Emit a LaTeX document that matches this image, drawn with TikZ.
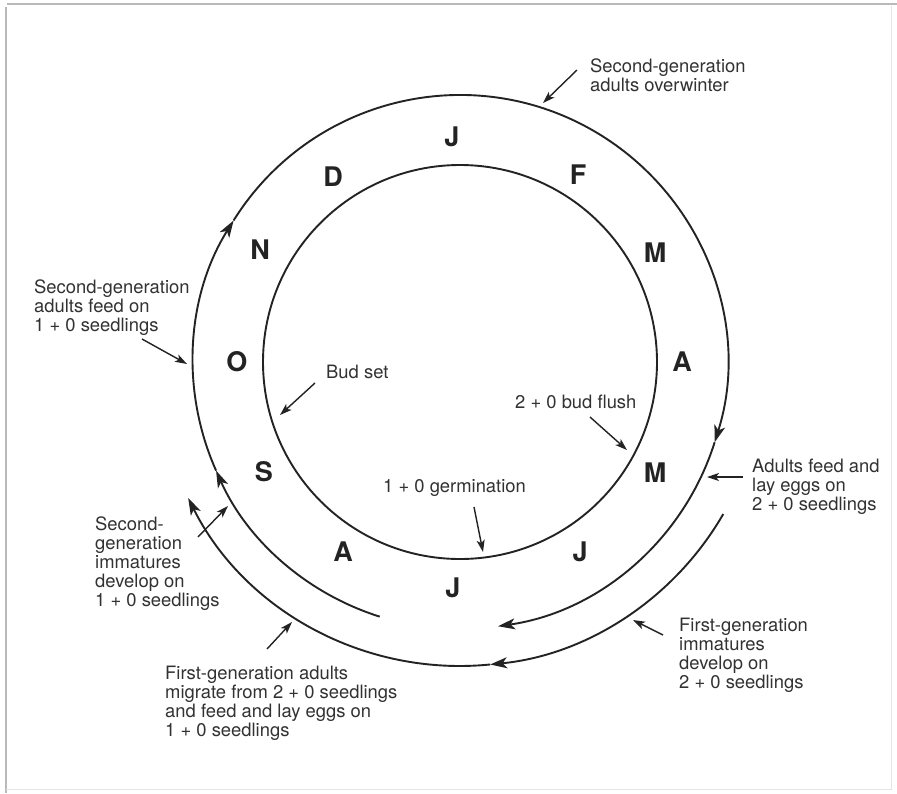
\documentclass[tikz,border=0pt]{standalone}
\usepackage{fontspec}
\setmainfont{TeX Gyre Heros}
\usetikzlibrary{arrows.meta}
\definecolor{ink}{RGB}{35,35,35}
\definecolor{txt}{RGB}{50,50,50}
\definecolor{framedark}{RGB}{185,185,185}
\definecolor{framelight}{RGB}{228,228,228}
\begin{document}
\begin{tikzpicture}[x=1pt,y=1pt,
  ring/.style={draw=ink,line width=1.9pt},
  arcarrow/.style={-{Stealth[length=17pt,width=11pt,inset=4.5pt]}},
  leader/.style={draw=ink,line width=1.4pt,-{Stealth[length=12pt,width=8pt,inset=3pt]}},
  lbl/.style={anchor=north west,inner sep=0pt,align=left,text=txt,font=\fontsize{18.4}{19}\selectfont},
  month/.style={inner sep=0pt,text=ink,font=\fontsize{27}{27}\selectfont\bfseries}]
\useasboundingbox (0,0) rectangle (897,-793);
\fill[white] (0,0) rectangle (897,-793);
% frame
\draw[framedark,line width=1.5pt] (7,-4) -- (897,-4);
\draw[framedark,line width=1.5pt] (6,-7) -- (6,-793);
\draw[framelight,line width=1pt] (891,-6) -- (891,-790);
\draw[framelight,line width=1pt] (6,-789) -- (891,-789);

\coordinate (c) at (460,-362);
% inner circle
\draw[ring] (c) circle[radius=197];

% main loop (radius 267)
\coordinate (m0) at ([shift={(-107.5:267)}]c);
\coordinate (m1) at ([shift={(-156:267)}]c);
\coordinate (m2) at ([shift={(-212:267)}]c);
\coordinate (m3) at ([shift={(-377.5:267)}]c);
\draw[ring,arcarrow] (m0) arc[start angle=-107.5,end angle=-156,radius=267];
\draw[ring,arcarrow] (m1) arc[start angle=-156,end angle=-212,radius=267];
\draw[ring,arcarrow] (m2) arc[start angle=-212,end angle=-377.5,radius=267];
\draw[ring,arcarrow] (m3) arc[start angle=-377.5,end angle=-441.8,radius=267];

% lowest arc (radius 304)
\coordinate (b0) at ([shift={(-30:304)}]c);
\coordinate (b1) at ([shift={(-84.3:304)}]c);
\draw[ring,arcarrow] (b0) arc[start angle=-30,end angle=-84.3,radius=304];
\draw[ring,arcarrow] (b1) arc[start angle=-84.3,end angle=-153.4,radius=304];

% months
\foreach \m/\x/\y [count=\i] in {J/452/137,F/578/175,M/655/253,A/682/362,M/655/473,J/580/552,J/453/588,A/343/552,S/264/472,O/237/362,N/260/250,D/333/177}{
  \node[month] (mon\i) at (\x,-\y) {\m};
}

% labels
\node[lbl] (overwinter) at (590,-58.5) {Second-generation\\adults overwinter};
\node[lbl] (feedone) at (34,-279.5) {Second-generation\\adults feed on\\1 + 0 seedlings};
\node[lbl] (budset) at (326,-364.5) {Bud set};
\node[lbl] (budflush) at (515,-394.5) {2 + 0 bud flush};
\node[lbl] (feedtwo) at (752,-458.5) {Adults feed and\\lay eggs on\\2 + 0 seedlings};
\node[lbl] (germ) at (383,-479.5) {1 + 0 germination};
\node[lbl] (immone) at (95,-516.5) {Second-\\generation\\immatures\\develop on\\1 + 0 seedlings};
\node[lbl] (immtwo) at (679,-617.5) {First-generation\\immatures\\develop on\\2 + 0 seedlings};
\node[lbl] (migrate) at (165,-665.5) {First-generation adults\\migrate from 2 + 0 seedlings\\and feed and lay eggs on\\1 + 0 seedlings};

% leader arrows
\coordinate (t1) at (577,-70);  \coordinate (h1) at (543,-103);
\coordinate (t2) at (142,-339); \coordinate (h2) at (187,-364);
\coordinate (t3) at (315,-383); \coordinate (h3) at (280,-415);
\coordinate (t4) at (590,-417); \coordinate (h4) at (627,-450);
\coordinate (t5) at (743,-477); \coordinate (h5) at (707,-477);
\coordinate (t6) at (474,-507); \coordinate (h6) at (483,-552);
\coordinate (t7) at (198,-537); \coordinate (h7) at (228,-506);
\coordinate (t8) at (663,-635); \coordinate (h8) at (633,-620);
\coordinate (t9) at (267,-649); \coordinate (h9) at (292,-622);
\foreach \k in {1,...,9}{ \draw[leader] (t\k) -- (h\k); }
\end{tikzpicture}
\end{document}
